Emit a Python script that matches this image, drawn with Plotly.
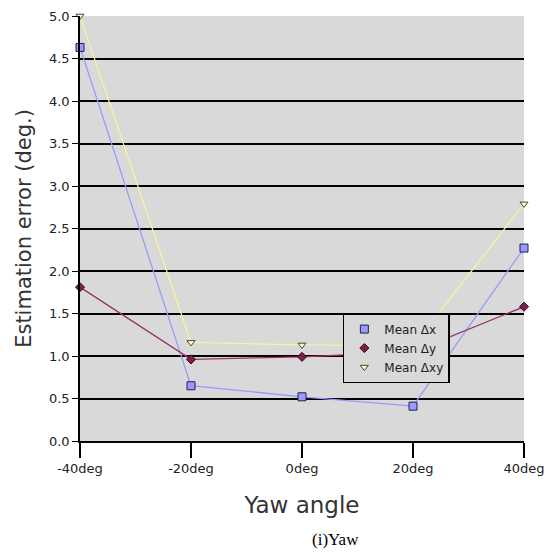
import plotly.graph_objects as go

angles = [-40, -20, 0, 20, 40]
angle_labels = ["-40deg", "-20deg", "0deg", "20deg", "40deg"]
mean_dx = [4.63, 0.65, 0.52, 0.41, 2.27]
mean_dy = [1.81, 0.96, 0.99, 1.05, 1.58]
mean_dxy = [5.0, 1.16, 1.13, 1.12, 2.79]
y_ticks = [0.0, 0.5, 1.0, 1.5, 2.0, 2.5, 3.0, 3.5, 4.0, 4.5, 5.0]

series = [
    ("Mean Δx", mean_dx, "#9999ff", dict(symbol="square", size=8, color="#9999ff",
                                          line=dict(color="#222244", width=1))),
    ("Mean Δy", mean_dy, "#993366", dict(symbol="diamond", size=7, color="#7a1f4a",
                                          line=dict(color="#3a0a20", width=1))),
    ("Mean Δxy", mean_dxy, "#f5f5a0", dict(symbol="triangle-down", size=7, color="#ffffcc",
                                            line=dict(color="#444433", width=1))),
]

fig = go.Figure()
for name, vals, col, mk in series:
    fig.add_trace(go.Scatter(x=angles, y=vals, mode="lines", showlegend=False,
                             line=dict(color=col, width=1.3), hoverinfo="skip"))
for name, vals, col, mk in series:
    fig.add_trace(go.Scatter(x=angles, y=vals, name=name, mode="markers", marker=mk))

fig.update_layout(
    width=548, height=555,
    margin=dict(l=80, r=24, t=16, b=114),
    paper_bgcolor="white", plot_bgcolor="#d9d9d9",
    font=dict(family="DejaVu Sans", color="#333333", size=12),
    showlegend=True,
    legend=dict(x=0.592, y=0.301, xanchor="left", yanchor="top",
                bgcolor="#d9d9d9", bordercolor="black", borderwidth=1.5,
                font=dict(size=12, color="#222222"), itemwidth=30,
                tracegroupgap=0),
    xaxis=dict(range=[-40, 40], tickvals=angles, ticktext=angle_labels,
               automargin=False,
               showgrid=False, zeroline=False, showline=True, linecolor="black",
               linewidth=1.5, ticks="outside", ticklen=15, tickcolor="black",
               tickwidth=1.5, tickfont=dict(size=13, color="#222222"),
               title=dict(text="Yaw angle", font=dict(size=23, color="#333333"),
                          standoff=22)),
    yaxis=dict(range=[0, 5.0], tickvals=y_ticks, automargin=False,
               ticktext=[f"{v:.1f}" for v in y_ticks],
               showgrid=True, gridcolor="black", gridwidth=1.5,
               zeroline=False, showline=True, linecolor="black", linewidth=1.5,
               ticks="outside", ticklen=6, tickcolor="black",
               tickfont=dict(size=13, color="#222222"),
               title=dict(text="Estimation error (deg.)",
                          font=dict(size=21, color="#333333"), standoff=12)),
    annotations=[dict(text="(i)Yaw", x=0.575, y=-0.232, xref="paper", yref="paper",
                      showarrow=False, xanchor="center", yanchor="middle",
                      font=dict(family="Liberation Serif", size=17, color="black"))],
)
fig.update_traces(cliponaxis=False)

fig.write_html("out.html")
